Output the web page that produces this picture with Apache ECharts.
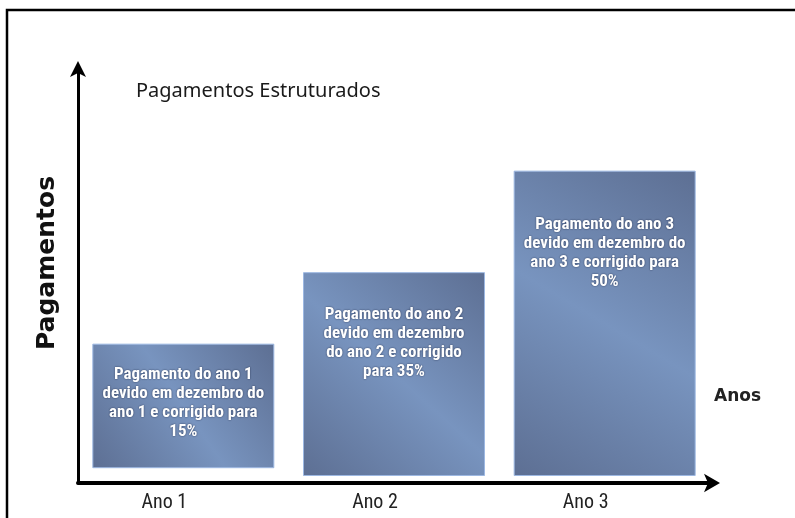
<!DOCTYPE html>
<html>
<head>
<meta charset="utf-8">
<script src="https://cdn.jsdelivr.net/npm/echarts@6/dist/echarts.min.js"></script>
<style>html,body{margin:0;padding:0;background:#fff;}#c{width:795px;height:518px;}</style>
</head>
<body>
<div id="c"></div>
<script>
// Data
const categories = ['Ano 1', 'Ano 2', 'Ano 3'];
const barBottom = [3.6, 1.7, 1.7];
const barTop = [33.9, 51.3, 76.0];
const barTexts = [
  'Pagamento do ano 1\ndevido em dezembro do\nano 1 e corrigido para\n15%',
  'Pagamento do ano 2\ndevido em dezembro\ndo ano 2 e corrigido\npara 35%',
  'Pagamento do ano 3\ndevido em dezembro do\nano 3 e corrigido para\n50%'
];
const titleText = 'Pagamentos Estruturados';
const yName = 'Pagamentos';
const xName = 'Anos';

// Styles
const labelDistances = [22, 33, 45];
const narrow = "'Liberation Sans Narrow', 'Roboto Condensed', 'Noto Sans', sans-serif";

const chart = echarts.init(document.getElementById('c'), null, {renderer: 'canvas'});

const barFill = new echarts.graphic.LinearGradient(0, 1, 1, 0, [
  {offset: 0, color: '#5d6f93'},
  {offset: 0.5, color: '#7894bf'},
  {offset: 1, color: '#5d6f93'}
]);

chart.setOption({
  backgroundColor: '#fff',
  animation: false,
  title: {
    text: titleText,
    left: 131, top: 76,
    textStyle: {fontFamily: "'Noto Sans', sans-serif", fontSize: 20, fontWeight: 'normal', color: '#1a1a1a'}
  },
  grid: {left: 78, right: 85, top: 72, bottom: 35, containLabel: false},
  xAxis: {
    type: 'category',
    data: categories,
    axisLine: {show: true, lineStyle: {color: '#000', width: 4}, symbol: ['none', 'arrow'], symbolSize: [14, 16], symbolOffset: [0, 10]},
    axisTick: {show: false},
    axisLabel: {margin: 10, fontFamily: narrow, fontSize: 20, color: '#222', padding: [0, 38, 0, 0]},
    splitLine: {show: false}
  },
  yAxis: {
    type: 'value',
    min: 0, max: 100,
    axisLine: {show: true, lineStyle: {color: '#000', width: 3}, symbol: ['none', 'arrow'], symbolSize: [12, 16], symbolOffset: [0, 11]},
    axisTick: {show: false},
    axisLabel: {show: false},
    splitLine: {show: false}
  },
  graphic: [
    {type: 'rect', shape: {x: 7, y: 10, width: 820, height: 540}, style: {fill: 'none', stroke: '#000', lineWidth: 2.5}, silent: true, z: 100},
    {type: 'text', x: 47, y: 263, rotation: Math.PI / 2, style: {text: yName, font: "bold 25px 'DejaVu Sans', sans-serif", fill: '#111', align: 'center', verticalAlign: 'middle'}},
    {type: 'text', x: 714, y: 397, style: {text: xName, font: "bold 17px 'DejaVu Sans', sans-serif", fill: '#222', align: 'left', verticalAlign: 'middle'}}
  ],
  series: [
    {
      type: 'bar', stack: 's', barWidth: 182,
      data: barBottom,
      itemStyle: {color: 'transparent'},
      silent: true
    },
    {
      type: 'bar', stack: 's', barWidth: 182,
      data: barTop.map((t, i) => ({
        value: +(t - barBottom[i]).toFixed(2),
        label: {distance: labelDistances[i], formatter: barTexts[i]}
      })),
      itemStyle: {color: barFill, borderColor: '#9db8e2', borderWidth: 1},
      label: {
        show: true, position: 'insideTop',
        fontFamily: narrow, fontSize: 17, fontWeight: 'bold', lineHeight: 19, color: '#fff', align: 'center',
        textShadowColor: 'rgba(20,30,60,0.8)', textShadowBlur: 2
      }
    }
  ]
});
</script>
</body>
</html>
